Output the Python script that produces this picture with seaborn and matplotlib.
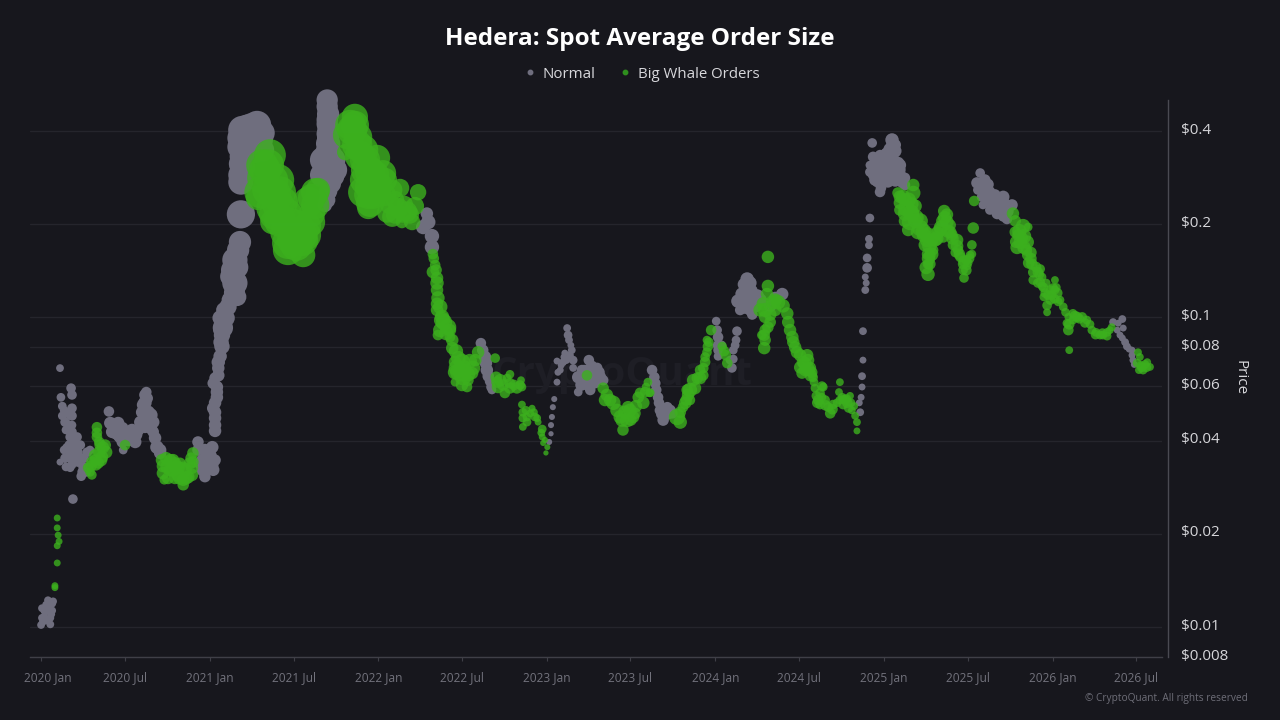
import matplotlib
matplotlib.use("Agg")
import matplotlib.pyplot as plt
import matplotlib.dates as mdates
from matplotlib.lines import Line2D
from matplotlib.transforms import ScaledTranslation
import pandas as pd
import seaborn as sns

TITLE = "Hedera: Spot Average Order Size"
LABEL_NORMAL = "Normal"
LABEL_WHALE = "Big Whale Orders"
PRICE_TICKS = [0.008, 0.01, 0.02, 0.04, 0.06, 0.08, 0.1, 0.2, 0.4]
PRICE_LABELS = ["$0.008", "$0.01", "$0.02", "$0.04", "$0.06", "$0.08", "$0.1", "$0.2", "$0.4"]
DATE_TICKS = ["2020-01-01", "2020-07-01", "2021-01-01", "2021-07-01", "2022-01-01", "2022-07-01", "2023-01-01",
              "2023-07-01", "2024-01-01", "2024-07-01", "2025-01-01", "2025-07-01", "2026-01-01", "2026-07-01"]
DATE_LABELS = ["2020 Jan", "2020 Jul", "2021 Jan", "2021 Jul", "2022 Jan", "2022 Jul", "2023 Jan",
               "2023 Jul", "2024 Jan", "2024 Jul", "2025 Jan", "2025 Jul", "2026 Jan", "2026 Jul"]

# each row: days since 2020-01-01, price in USD, average order size (relative)
normal_start = [(0,.01015,49),(4,.0104,49),(2,.0115,49),(9,.0112,49),(13,.0105,49),(20,.0102,49),(15,.0113,49),
                (24,.0119,49),(26,.0121,49),(7,.0108,49),(22,.0110,49),(17,.0117,49),(2,.0107,49),(11,.0118,49),
                (7,.0113,49),(20,.0107,49),(24,.0113,49),(15,.0122,49)]
whale_start = [(30,.0134,36),(30,.0136,36),(35,.0161,36),(35,.0183,36),(39,.0189,36),(37,.0198,36),(35,.0209,36),(35,.0225,36)]
normal_2020_a = [(41,.0686,49),(65,.0591,81),(67,.0562,81),(43,.0552,64),(46,.0517,64),(46,.0481,64),(67,.0509,81),
                 (67,.0481,81),(67,.0449,64),(54,.0433,64),(63,.0411,81),(78,.0411,81),(56,.0379,81),(69,.0381,100),
                 (59,.0354,81),(80,.0367,81),(74,.0358,81),(41,.0341,36),(54,.0329,64),(100,.0367,81),(89,.0351,81),
                 (91,.0329,81),(87,.0307,81),(69,.0259,81),(67,.0334,64),(50,.0501,64),(52,.0459,81),(63,.0484,81),
                 (59,.0449,81),(67,.0427,81),(74,.0402,81),(61,.0387,81),(50,.0373,64),(52,.0351,81),(63,.0367,81),
                 (74,.0378,81),(85,.0387,81),(85,.0351,81),(93,.0351,81),(98,.0317,81),(63,.0327,64),(67,.0346,81),
                 (80,.0341,81),(89,.0317,81),(106,.0373,64)]
whale_2020_a = [(121,.0442,100),(121,.0424,100),(126,.0396,100),(134,.0380,144),(141,.0367,144),(132,.0354,144),
                (117,.0346,121),(124,.0339,121),(108,.0331,121),(110,.0310,81),(102,.0327,100),(182,.0387,100),
                (121,.0411,100),(128,.0387,121),(139,.0387,121),(126,.0367,144),(117,.0358,144),(110,.0341,121),
                (106,.0317,81),(119,.0334,121),(130,.0346,144)]
normal_2020_b = [(147,.0497,100),(150,.0456,144),(167,.0456,144),(160,.0424,144),(171,.0411,144),(193,.0411,144),
                 (204,.0396,144),(178,.0373,64),(215,.0459,144),(210,.0433,144),(228,.0574,100),(225,.0530,169),
                 (232,.0494,169),(243,.0459,144),(243,.0427,121),(225,.0443,144),(251,.0381,169),(258,.0365,144),
                 (182,.0424,144),(219,.0494,144),(156,.0449,144),(176,.0439,144),(184,.0402,100),(197,.0433,144),
                 (206,.0418,144),(189,.0402,144),(176,.0396,121),(167,.0418,144),(154,.0427,144),(232,.0466,169),
                 (230,.0548,121),(238,.0439,144),(247,.0408,144),(258,.0373,144),(219,.0449,144),(238,.0484,169),
                 (221,.0522,144),(225,.0562,121)]
whale_2020_b = [(262,.0346,144),(264,.0314,144),(267,.0299,81),(286,.0346,144),(280,.0322,169),(290,.0303,144),
                (308,.0288,121),(319,.0305,144),(308,.0327,144),(327,.0327,144),(329,.0365,121),(323,.0338,144),
                (273,.0329,169),(297,.0327,169),(271,.0351,144),(275,.0303,144),(284,.0322,169),(292,.0327,169),
                (301,.0303,169),(314,.0303,169),(312,.0322,169),(327,.0310,144),(297,.0310,169),(264,.0331,144),
                (280,.0346,144),(329,.0341,121),(301,.0338,121),(325,.0351,121),(290,.0338,144),(308,.0299,144)]
normal_2020_c = [(340,.0396,121),(371,.0381,144),(351,.0346,169),(362,.0329,169),(355,.0306,121),(345,.0338,144),
                 (371,.0334,144),(377,.0430,144),(377,.0473,144),(373,.0509,144),(381,.0552,144),(381,.0596,144),
                 (373,.0613,121),(384,.0650,144),(384,.0717,169),(392,.0806,225),(392,.0877,256),(394,.0926,400),
                 (388,.0996,225),(405,.1082,289),(425,.1165,324),(420,.1292,625),(410,.1356,400),(420,.1533,625),
                 (431,.1752,484),(433,.2153,784),(433,.2737,625),(436,.3078,625),(436,.3310,625),(431,.3555,625),
                 (436,.4033,784),(468,.4187,784),(479,.3946,625),(446,.4118,625),(464,.3475,625),
                 (355,.0373,144),(366,.0358,169),(340,.0373,121),(351,.0322,169),(377,.0346,121),(373,.0322,144),
                 (377,.0449,144),(377,.0494,144),(377,.0530,144),(381,.0574,144),(377,.0637,121),(384,.0686,144),
                 (388,.0749,169),(390,.0832,225),(392,.0910,289),(401,.0996,289),(396,.1057,225),(410,.1138,289),
                 (416,.1200,324),(414,.1423,484),(425,.1452,484),(427,.1651,484),(420,.1226,400),(416,.1374,400),
                 (433,.2885,625),(442,.3385,625),(453,.3609,625),(431,.3137,484),
                 (431,.3799,625),(457,.4118,784),(475,.3744,625),(481,.3475,484)]
normal_2021 = [(620,.5041,441),(622,.4537,484),(620,.4215,441),(620,.3919,441),(622,.3644,576),(622,.3385,676),
               (611,.3226,676),(637,.2995,576),(615,.2845,484),(622,.2557,324),(615,.2309,196),(620,.4800,441),
               (620,.4350,441),(622,.4060,441),(622,.3800,484),(631,.3226,676),(609,.2885,576),(628,.2708,400),
               (620,.2396,256),(633,.2863,484),(637,.3226,400)]
whale_2021_a = [(496,.3345,1024),(479,.3104,1156),(481,.2825,1444),(475,.2538,1024),(470,.2432,576),(501,.2780,1296),
                (518,.2538,1024),(501,.2257,1156),(524,.2361,900),(518,.2049,1296),(501,.2033,576),(555,.1973,1296),
                (546,.1779,1296),(535,.1739,1156),(535,.1651,900),(568,.1590,576),(566,.1779,1156),(576,.1973,784),
                (587,.2166,676),(579,.2361,900),(594,.2538,784),(600,.2581,576),(485,.2995,1296),(492,.2581,1296),
                (507,.2503,1156),(507,.2158,1156),(514,.2309,1156),(531,.2158,1156),(531,.1887,1296),(542,.2003,1296),
                (553,.1715,1156),(564,.1846,1156),(574,.1846,900),(585,.2033,784),(594,.2309,784),(587,.2432,784),
                (492,.3105,1156),(514,.2780,1024)]
whale_2021_b = [(680,.4446,676),(670,.4187,900),(663,.3885,784),(659,.3420,256),(687,.3827,784),(698,.3475,900),
                (728,.3276,676),(706,.2995,1024),(713,.2640,900),(709,.2257,484),(741,.2924,676),(761,.2581,400),
                (728,.2538,784),(778,.2620,324),(761,.2115,400),(750,.2182,400),(774,.2257,400),(782,.2033,144),
                (804,.2033,256),(793,.2199,400),(810,.2290,324),(817,.2538,256),(698,.2538,900),(713,.2345,784),
                (674,.4033,900),(680,.4187,784),(685,.3609,900),(691,.3327,900),(702,.3226,900),(713,.2949,900),
                (724,.2885,784),(702,.2780,900),(735,.2678,576),(745,.2780,576),(719,.2489,784),(709,.2489,784),
                (745,.2489,484),(756,.2325,400),(767,.2396,324),(767,.2149,324),(784,.2149,256),(799,.2149,324),
                (788,.2325,256)]
normal_2022_a = [(836,.2166,144),(828,.1959,196),(839,.2033,196),(847,.1831,196),(847,.1688,196)]
whale_2022_a = [(849,.1602,100),(854,.1476,100),(849,.1402,144),(858,.1292,169),(860,.1156,169),(858,.1057,144),
                (865,.1082,196),(869,.0981,256),(882,.0930,256),(869,.1004,196),(860,.0877,100),(886,.0864,100),
                (865,.0910,196),(891,.0796,144),(904,.0739,196),(901,.0687,256),(914,.0641,256),(923,.0596,100),
                (897,.0618,64),(936,.0687,196),(947,.0772,144),(934,.0661,144),(912,.0665,324),(851,.1550,100),
                (856,.1423,121),(858,.1341,144),(858,.1226,144),(858,.1107,144),(873,.0966,256),(878,.0890,196),
                (886,.0910,144),(891,.0845,144),(899,.0778,196),(912,.0718,256),(904,.0665,256),(916,.0691,196),
                (925,.0655,196),(929,.0723,196),(941,.0728,144),(912,.0605,144),(925,.0627,121),(897,.0665,196),
                (897,.0718,144)]
normal_2022_b = [(953,.0826,100),(962,.0745,144),(966,.0676,144),(973,.0622,100),(977,.0583,64),(957,.0784,121),
                 (964,.0712,144),(969,.0646,121),(975,.0596,81)]
whale_2022_b = [(984,.0739,81),(986,.0641,121),(990,.0596,144),(1005,.0570,100),(1016,.0655,64),(1016,.0613,100),
                (1031,.0592,121),(1040,.0627,49),(1042,.0596,64),(995,.0627,144),(1001,.0605,121),(1016,.0592,121),
                (1025,.0605,100),(1038,.0605,81),(988,.0618,121),(1010,.0637,64)]
whale_2022_c = [(1042,.0523,49),(1044,.0494,64),(1053,.0477,64),(1064,.0509,36),(1070,.0477,64),(1077,.0459,36),
                (1044,.0443,49),(1053,.0459,64),(1086,.0436,64),(1086,.0411,36),(1092,.0402,25),(1097,.0381,25),(1094,.0365,16),
                (1051,.0501,64),(1060,.0490,49),(1068,.0494,49),(1044,.0473,64),(1075,.0473,49),(1084,.0424,49),(1088,.0393,25)]
normal_2023_a = [(1101,.0396,25),(1105,.0421,16),(1105,.0449,25),(1107,.0477,25),(1109,.0513,25),(1112,.0545,25),
                 (1140,.0924,49),(1142,.0877,64),(1148,.0813,36),(1135,.0767,36),(1118,.0723,36),(1131,.0717,49),
                 (1153,.0728,64),(1153,.0687,49),(1125,.0676,36),(1118,.0618,36),(1187,.0728,100),(1164,.0641,144),
                 (1164,.0574,64),(1183,.0613,100),(1205,.0687,100),(1211,.0641,144),(1200,.0613,100),(1177,.0676,100),
                 (1144,.0845,49),(1133,.0745,36),(1146,.0755,49),(1127,.0701,36),(1138,.0728,49),(1120,.0665,36),
                 (1150,.0784,49),(1172,.0676,100),(1174,.0605,100),(1194,.0650,121),(1194,.0697,100),(1218,.0627,100),
                 (1170,.0605,121),(1190,.0583,100),(1190,.0680,144),(1200,.0640,144),(1177,.0630,144),(1170,.0640,144),
                 (1209,.0665,121)]
whale_2023_a = [(1183,.0650,100),(1218,.0591,121),(1222,.0541,144),(1240,.0530,196),(1255,.0477,169),(1261,.0433,121),
                (1270,.0466,196),(1272,.0513,144),(1283,.0477,144),(1298,.0571,100),(1305,.0530,144),(1315,.0618,64),(1318,.0571,64),
                (1226,.0562,144),(1233,.0541,144),(1248,.0501,169),(1259,.0466,169),(1265,.0494,169),(1276,.0501,169),
                (1289,.0517,144),(1294,.0552,121),(1278,.0466,121),(1309,.0574,100),(1311,.0596,64),(1287,.0490,121)]
normal_2023_b = [(1324,.0676,100),(1331,.0613,100),(1337,.0552,100),(1341,.0501,100),(1348,.0466,121),(1357,.0513,100),(1363,.0501,121),
                 (1329,.0641,100),(1333,.0583,100),(1339,.0530,100),(1344,.0487,100),(1350,.0501,121),(1359,.0487,100),(1368,.0490,100)]
whale_2023_b = [(1320,.0571,64),(1378,.0477,256),(1385,.0459,169),(1391,.0513,100),(1406,.0583,196),(1413,.0627,144),
                (1428,.0637,144),(1435,.0686,100),(1439,.0745,81),(1445,.0806,100),(1443,.0845,64),(1452,.0910,100),(1398,.0541,121),
                (1385,.0494,121),(1396,.0530,144),(1402,.0562,144),(1417,.0591,144),(1422,.0637,121),(1428,.0676,100),
                (1435,.0650,100),(1439,.0718,100),(1443,.0772,81),(1447,.0832,81),(1406,.0541,100),(1400,.0583,121)]
normal_2024_a = [(1463,.0973,64),(1467,.0864,100),(1467,.0749,64),(1497,.0687,81),(1500,.0784,64),(1508,.0903,81),(1506,.0845,64),
                 (1465,.0910,81),(1467,.0813,100),(1467,.0784,81),(1474,.0813,81),(1493,.0728,64),(1504,.0813,64),(1500,.0734,64)]
whale_2024_a = [(1476,.0806,81),(1484,.0755,100),(1487,.0712,100),(1480,.0779,100)]
normal_2024_b = [(1530,.1331,169),(1530,.1264,144),(1510,.1129,169),(1515,.1057,100),(1536,.1209,256),(1541,.1022,100),
                 (1552,.1173,169),(1606,.1190,144),(1523,.1279,144),(1536,.1293,169),(1532,.1138,196),(1519,.1190,169),
                 (1547,.1090,169),(1536,.1057,121),(1525,.1072,121),(1558,.1138,169),(1591,.1156,144),(1580,.1090,144)]
whale_2024_b = [(1575,.1569,144),(1575,.1264,144),(1558,.1057,169),(1569,.1004,144),(1586,.1120,196),(1575,.0930,121),
                (1562,.0877,81),(1569,.0845,121),(1567,.0796,144),(1608,.1090,169),(1617,.1030,144),(1623,.0910,144),
                (1630,.0832,144),(1638,.0772,144),(1660,.0755,144),(1649,.0661,121),(1666,.0687,144),(1673,.0641,81),
                (1677,.0591,64),(1682,.0530,100),(1695,.0596,64),(1692,.0552,64),(1710,.0490,100),(1725,.0530,64),
                (1731,.0618,49),(1729,.0574,49),(1747,.0530,100),(1753,.0558,49),(1757,.0501,49),(1768,.0459,49),
                (1768,.0430,36),(1591,.1057,144),(1688,.0523,81),(1738,.0523,81),(1565,.1107,169),(1569,.1057,196),
                (1580,.1022,144),(1597,.1120,196),(1591,.1138,169),(1573,.1190,144),(1580,.0966,121),(1567,.0877,121),
                (1569,.0910,121),(1619,.0966,144),(1628,.0864,144),(1634,.0801,144),(1645,.0755,144),(1651,.0718,144),
                (1656,.0676,144),(1662,.0728,144),(1670,.0665,121),(1675,.0618,64),(1680,.0558,81),(1684,.0541,100),
                (1699,.0541,81),(1706,.0513,81),(1716,.0523,81),(1736,.0552,64),(1742,.0541,81),(1755,.0530,64),
                (1764,.0481,49),(1731,.0541,64),(1762,.0517,49),(1655,.0710,169),(1662,.0680,169),(1645,.0690,144),
                (1668,.0650,144),(1688,.0570,81),(1692,.0600,81),(1700,.0520,100),(1715,.0505,100),(1745,.0545,81),
                (1750,.0510,81),(1738,.0545,64)]
normal_2024_c = [(1775,.0494,49),(1773,.0530,36),(1777,.0552,36),(1779,.0596,36),(1779,.0646,49),(1781,.0728,36),
                 (1781,.0903,49),(1786,.1226,49),(1788,.1292,36),(1786,.1351,36),(1790,.1446,81),(1790,.1557,64),
                 (1794,.1711,49),(1794,.1794,49),(1796,.2095,64)]
normal_2025_a = [(1801,.3662,81),(1844,.3744,169),(1803,.3302,100),(1796,.3105,64),(1803,.2885,100),(1818,.2543,100),
                 (1818,.3154,144),(1833,.3385,144),(1846,.3385,144),(1846,.3553,144),(1857,.3154,144),(1861,.2885,144),
                 (1840,.2928,196),(1825,.2780,144),(1866,.2720,100),(1812,.2737,100),(1807,.3105,144),(1814,.2950,144),
                 (1825,.3105,169),(1829,.2885,169),(1840,.3226,169),(1851,.2995,169),(1807,.2780,121),(1818,.2780,121),
                 (1818,.3345,100),(1829,.3345,144),(1844,.3553,169),(1851,.3609,121),(1861,.3105,144),(1872,.2824,100),
                 (1851,.2780,169),(1872,.2678,100),(1796,.2949,81),(1810,.3250,144),(1822,.3000,169),(1833,.3100,196),
                 (1845,.3050,196),(1855,.2950,169),(1835,.2750,144),(1820,.2620,100),(1850,.3450,169),(1838,.3500,121),
                 (1812,.2950,144),(1860,.3000,144),(1865,.2800,121)]
whale_2025_a = [(1890,.2678,144),(1857,.2525,121),(1890,.2525,196),(1861,.2345,144),(1894,.2290,169),(1872,.2166,196),
                (1883,.2033,256),(1879,.1916,144),(1905,.1945,256),(1920,.1779,196),(1922,.1602,144),(1926,.1488,121),
                (1922,.1378,169),(1942,.1873,169),(1957,.2207,144),(1963,.2033,169),(1955,.1820,121),(1933,.1651,100),
                (1985,.1779,144),(1981,.1621,81),(1998,.1488,100),(2000,.1341,81),(2017,.1602,64),(2007,.1468,64),
                (2017,.1715,81),(2020,.1945,121),(2022,.2378,100),(1970,.1887,144),(1861,.2455,144),(1872,.2396,169),
                (1887,.2325,169),(1861,.2224,121),(1887,.2149,196),(1872,.2050,144),(1894,.2050,196),(1900,.1887,196),
                (1913,.1845,196),(1916,.1715,169),(1931,.1779,144),(1937,.1779,169),(1926,.1590,121),(1922,.1488,100),
                (1948,.1916,169),(1953,.2050,144),(1963,.2149,144),(1974,.1846,121),(1970,.1988,121),(1976,.1715,100),
                (1987,.1651,100),(1992,.1569,100),(1998,.1423,81),(2005,.1533,81),(2013,.1590,64),(2009,.1503,64),
                (1868,.2450,196),(1880,.2400,196),(1875,.2250,256),(1885,.2180,256),(1895,.2100,256),(1905,.2050,225),
                (1912,.1900,225),(1920,.1850,225),(1925,.1700,196),(1930,.1600,169),(1940,.1800,196),(1950,.1950,196),
                (1958,.2100,169),(1965,.1900,169),(1975,.1800,144),(1985,.1700,144),(1990,.1600,121),(2000,.1520,121),
                (2005,.1420,100),(2012,.1550,81),(1918,.1450,169),(1923,.1550,169)]
normal_2025_b = [(2035,.2928,81),(2028,.2720,121),(2041,.2581,144),(2056,.2452,144),(2041,.2309,64),(2085,.2452,144),
                 (2072,.2166,121),(2093,.2080,100),(2104,.2309,121),(2078,.2290,144),(2045,.2452,121),(2052,.2690,121),
                 (2045,.2780,121),(2060,.2309,121),(2067,.2488,121),(2074,.2309,121),(2089,.2309,144),(2085,.2120,100),
                 (2095,.2290,121),(2056,.2224,81),(2030,.2581,81),(2035,.2700,144),(2045,.2600,144),(2055,.2550,121),
                 (2062,.2400,144),(2072,.2350,144),(2085,.2350,144),(2095,.2200,121),(2080,.2200,121),(2050,.2400,100),
                 (2038,.2450,81)]
whale_2025_b = [(2106,.2166,144),(2111,.1888,121),(2128,.1973,196),(2139,.1959,64),(2115,.1683,169),(2137,.1752,169),
                (2137,.1590,100),(2147,.1488,121),(2165,.1434,81),(2150,.1321,81),(2169,.1351,64),(2197,.1321,49),
                (2176,.1199,81),(2202,.1199,100),(2180,.1094,81),(2180,.1039,49),(2215,.1082,64),(2226,.1004,49),
                (2226,.0910,100),(2228,.0784,49),(2245,.1004,100),(2266,.0981,64),(2277,.0910,64),(2295,.0877,64),
                (2310,.0895,64),(2187,.1226,81),(2208,.1138,64),(2111,.2050,121),(2117,.1845,121),(2126,.1806,121),
                (2113,.1755,144),(2130,.1683,169),(2145,.1621,121),(2145,.1550,121),(2156,.1456,100),(2163,.1376,81),
                (2160,.1292,81),(2169,.1264,64),(2178,.1292,64),(2173,.1165,64),(2193,.1245,81),(2187,.1138,81),
                (2197,.1226,64),(2204,.1123,64),(2220,.1039,64),(2236,.1031,64),(2256,.1004,81),(2273,.0950,64),
                (2286,.0895,64),(2301,.0877,64),(2316,.0910,49),(2223,.0958,64),(2236,.0981,64),(2120,.1900,196),
                (2122,.1750,169),(2130,.1830,196),(2135,.1650,121),(2140,.1500,121),(2150,.1400,100),(2160,.1400,100),
                (2165,.1300,81),(2172,.1250,81),(2182,.1180,81),(2190,.1180,81),(2196,.1150,81),(2200,.1250,64),
                (2228,.0950,100),(2240,.1010,100),(2250,.0990,81),(2262,.0960,81),(2285,.0880,81),(2300,.0890,81),
                (2310,.0870,64),(2320,.0930,49)]
normal_2026 = [(2323,.0966,49),(2343,.0988,49),(2345,.0924,36),(2332,.0910,36),(2343,.0858,36),(2353,.0806,49),(2364,.0784,36),(2366,.0728,36),
               (2334,.0958,36),(2338,.0877,36),(2349,.0832,49),(2358,.0790,36),(2364,.0755,36),(2369,.0705,36)]
whale_2026 = [(2377,.0772,49),(2375,.0712,64),(2388,.0676,64),(2397,.0717,49),(2403,.0692,49),(2381,.0745,49),
              (2383,.0700,64),(2392,.0705,64),(2379,.0676,49),(2385,.0690,81),(2395,.0690,81)]

normal_rows = (normal_start + normal_2020_a + normal_2020_b + normal_2020_c + normal_2021 + normal_2022_a + normal_2022_b
               + normal_2023_a + normal_2023_b + normal_2024_a + normal_2024_b + normal_2024_c + normal_2025_a
               + normal_2025_b + normal_2026)
whale_rows = (whale_start + whale_2020_a + whale_2020_b + whale_2021_a + whale_2021_b + whale_2022_a + whale_2022_b
              + whale_2022_c + whale_2023_a + whale_2023_b + whale_2024_a + whale_2024_b + whale_2025_a + whale_2025_b
              + whale_2026)


def frame(rows):
    df = pd.DataFrame(rows, columns=["days", "price", "order_size"])
    df["date"] = pd.Timestamp("2020-01-01") + pd.to_timedelta(df["days"], unit="D")
    return df


BG = "#17171d"
GRID = "#25252c"
AXIS = "#3f3f47"
GREY = "#6f6e7e"
GREEN = "#3cb01e"
W, H = 1280, 720
sns.set_style("dark")
plt.rcParams["font.family"] = ["Open Sans", "DejaVu Sans"]

fig = plt.figure(figsize=(W / 100, H / 100), dpi=100, facecolor=BG)
ax = fig.add_axes([30 / W, (H - 657) / H, (1162 - 30) / W, (657 - 100) / H], facecolor=BG)

size_args = dict(size="order_size", sizes=(6, 525), size_norm=(0, 1000), linewidth=0, legend=False, ax=ax, zorder=3,
                 clip_on=False)
sns.scatterplot(data=frame(normal_rows), x="date", y="price", color=GREY, alpha=1.0, **size_args)
sns.scatterplot(data=frame(whale_rows), x="date", y="price", color=GREEN, alpha=0.8, **size_args)

ax.set_yscale("log")
ax.set_ylim(0.008, 0.504)
d0 = mdates.date2num(pd.Timestamp("2020-01-01"))
ax.set_xlim(d0 - 24, d0 + 2429)
ax.set_xlabel("")
ax.set_ylabel("")

ax.yaxis.tick_right()
ax.set_yticks(PRICE_TICKS)
ax.set_yticklabels([""] * len(PRICE_TICKS))
ax.minorticks_off()
ax.tick_params(axis="y", length=0)
for price, label in zip(PRICE_TICKS, PRICE_LABELS):
    ax.annotate(label, xy=(1, price), xycoords=("axes fraction", "data"), xytext=(13.5, 0.7),
                textcoords="offset points", ha="left", va="center", color="#d6d6da", fontsize=11, annotation_clip=False)
ax.yaxis.grid(True, color=GRID, linewidth=1)
ax.xaxis.grid(False)
ax.set_axisbelow(True)

ax.set_xticks([mdates.date2num(pd.Timestamp(d)) for d in DATE_TICKS])
ax.set_xticklabels(DATE_LABELS, color="#72727c", fontsize=8.6)
ax.tick_params(axis="x", length=3, width=0.8, color=AXIS, pad=7, bottom=True)
first = ax.get_xticklabels()[0]
first.set_transform(first.get_transform() + ScaledTranslation(7 / 100, 0, fig.dpi_scale_trans))

for s in ["top", "left"]:
    ax.spines[s].set_visible(False)
ax.spines["bottom"].set_color(AXIS)
ax.spines["bottom"].set_linewidth(1)
ax.spines["right"].set_position(("outward", 4.3))
ax.spines["right"].set_color("#4a4a52")
ax.spines["right"].set_linewidth(1)

ax.text(622 / W, 1 - 375 / H, "CryptoQuant", transform=fig.transFigure, ha="center", va="center",
        fontsize=29, fontweight="bold", color="#1e1e25", zorder=1)
fig.text(640 / W, 1 - 39 / H, TITLE, ha="center", va="center", fontsize=17.5, fontweight="bold", color="#ffffff")
handles = [Line2D([], [], marker="o", linestyle="", color=GREY, markersize=3.2),
           Line2D([], [], marker="o", linestyle="", color="#2f8f1e", markersize=3.2)]
fig.legend(handles, [LABEL_NORMAL, LABEL_WHALE], ncol=2, loc="center", bbox_to_anchor=(641 / W, 1 - 74 / H),
           frameon=False, fontsize=10.8, labelcolor="#d8d8dc", handletextpad=0.35, columnspacing=1.5, handlelength=1)
fig.text(1240 / W, 1 - 378 / H, "Price", rotation=270, ha="center", va="center", fontsize=11, color="#d8d8dc")
fig.text(1248 / W, 1 - 698 / H, "© CryptoQuant. All rights reserved", ha="right", va="center", fontsize=7.3, color="#6e6e78")

fig.savefig("out.png", dpi=100, facecolor=BG)
